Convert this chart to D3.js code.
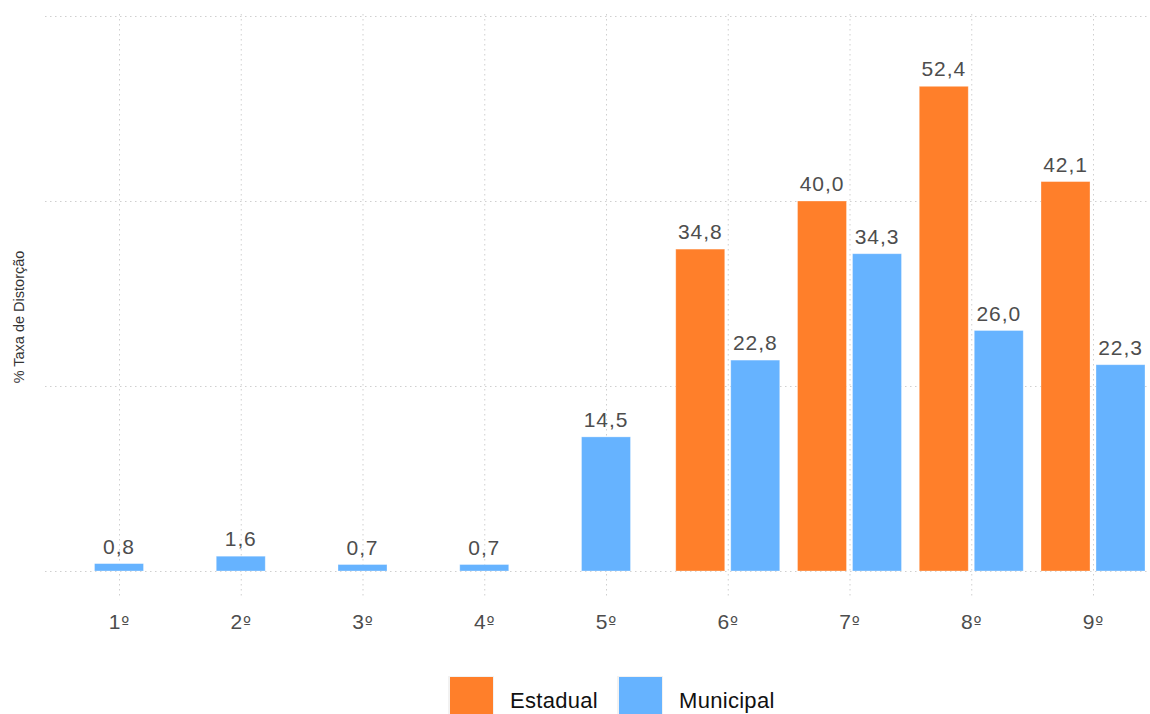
<!DOCTYPE html>
<html>
<head>
<meta charset="utf-8">
<script src="https://cdn.jsdelivr.net/npm/d3@7"></script>
<style>
  body { margin: 0; background: #fff; }
  svg { display: block; font-family: 'Liberation Sans', Arial, sans-serif; }
</style>
</head>
<body>
<svg width="1150" height="714"></svg>
<script>
const series = ['Estadual', 'Municipal']
const grades = ['1º', '2º', '3º', '4º', '5º', '6º', '7º', '8º', '9º']
const estadual = [null, null, null, null, null, 34.8, 40.0, 52.4, 42.1]
const municipal = [0.8, 1.6, 0.7, 0.7, 14.5, 22.8, 34.3, 26.0, 22.3]
const yTicks = [0, 20, 40, 60]
const colors = { Estadual: '#FF7F2A', Municipal: '#66B3FF' }

const svg = d3.select('svg')
const panel = { left: 45, right: 1150, top: 14, bottom: 598 }

const x = d3.scalePoint().domain(grades).range([119, 1093])
const y = d3.scaleLinear().domain([0, 60]).range([571, 16])
const dodge = d3.scaleBand().domain(series).range([-52, 52]).paddingInner(0.109)
const bw = dodge.bandwidth()

const fmt = v => d3.format('.1f')(v).replace('.', ',')

// grid
const grid = svg.append('g')
  .attr('stroke', '#cfcfcf')
  .attr('stroke-width', 1)
  .attr('stroke-dasharray', '1.5,3.5')

grid.selectAll('.hg')
  .data(yTicks)
  .enter()
  .append('line')
  .attr('x1', panel.left)
  .attr('x2', panel.right)
  .attr('y1', d => y(d) + 0.5)
  .attr('y2', d => y(d) + 0.5)

grid.selectAll('.vg')
  .data(grades)
  .enter()
  .append('line')
  .attr('x1', d => x(d) + 0.5)
  .attr('x2', d => x(d) + 0.5)
  .attr('y1', panel.top)
  .attr('y2', panel.bottom)

// bars
const rows = []
grades.forEach((g, i) => {
  const present = series.filter(s => (s === 'Estadual' ? estadual[i] : municipal[i]) != null)
  present.forEach(s => {
    const v = s === 'Estadual' ? estadual[i] : municipal[i]
    const x0 = present.length === 1 ? x(g) - bw / 2 : x(g) + dodge(s)
    rows.push({ g, s, v, x0 })
  })
})

const bars = svg.append('g')
  .selectAll('g')
  .data(rows)
  .enter()
  .append('g')

bars.append('rect')
  .attr('x', d => d.x0)
  .attr('y', d => y(d.v))
  .attr('width', bw)
  .attr('height', d => y(0) - y(d.v))
  .attr('fill', d => colors[d.s])
  .attr('stroke', '#fff')
  .attr('stroke-opacity', 0.4)
  .attr('stroke-width', 0.8)

bars.append('text')
  .attr('x', d => d.x0 + bw / 2)
  .attr('y', d => y(d.v) - 10)
  .attr('text-anchor', 'middle')
  .attr('font-size', 21)
  .attr('letter-spacing', 0.9)
  .attr('fill', '#4d4d4d')
  .text(d => fmt(d.v))

// x axis labels
const xl = svg.append('g')
  .selectAll('text')
  .data(grades)
  .enter()
  .append('text')
  .attr('x', d => x(d))
  .attr('y', 629)
  .attr('text-anchor', 'middle')
  .attr('font-size', 21)
  .attr('fill', '#4d4d4d')

xl.append('tspan').text(d => d.slice(0, -1))
xl.append('tspan')
  .attr('font-family', 'DejaVu Sans')
  .attr('font-size', 17)
  .attr('dx', 1)
  .text('º')

// y title
svg.append('text')
  .attr('transform', 'translate(24,317) rotate(-90)')
  .attr('text-anchor', 'middle')
  .attr('font-size', 14.5)
  .attr('fill', '#333')
  .text('% Taxa de Distorção')

// legend
const legend = svg.append('g')
  .selectAll('g')
  .data(series)
  .enter()
  .append('g')
  .attr('transform', (d, i) => `translate(${[449, 618][i]},677)`)

legend.append('rect')
  .attr('x', -1)
  .attr('y', -1)
  .attr('width', 46)
  .attr('height', 46)
  .attr('fill', '#f2f2f2')

legend.append('rect')
  .attr('x', 1)
  .attr('y', 0)
  .attr('width', 43)
  .attr('height', 44)
  .attr('fill', d => colors[d])

legend.append('text')
  .attr('x', 61)
  .attr('y', 31)
  .attr('font-size', 22)
  .attr('letter-spacing', 0.3)
  .attr('fill', '#111')
  .text(d => d)
</script>
</body>
</html>
